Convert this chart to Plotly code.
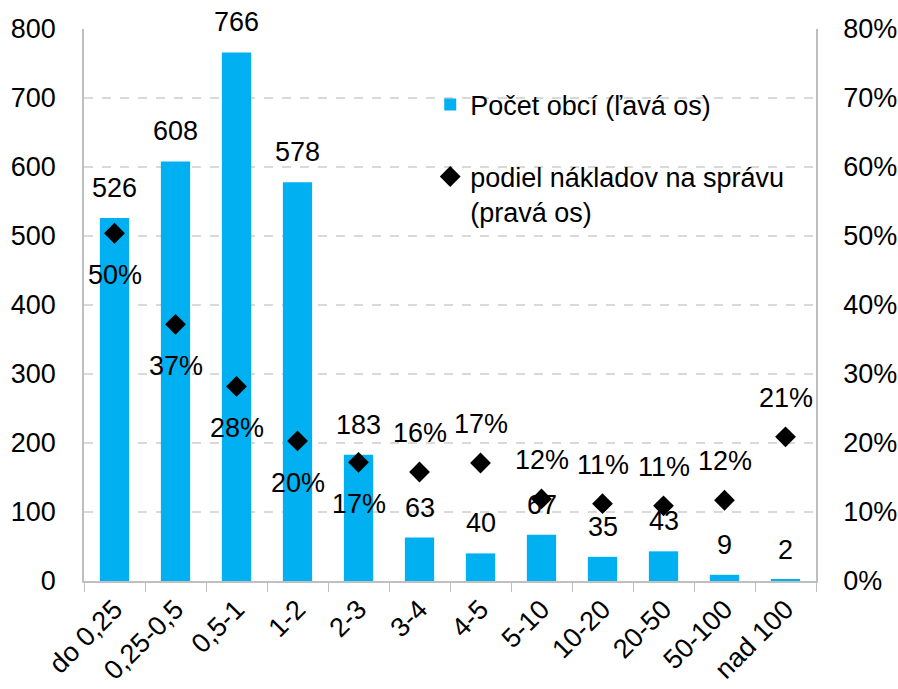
import plotly.graph_objects as go

# Size classes of municipalities (thousand inhabitants)
categories = ["do 0,25", "0,25-0,5", "0,5-1", "1-2", "2-3", "3-4", "4-5",
              "5-10", "10-20", "20-50", "50-100", "nad 100"]
# Number of municipalities in each class (left axis)
pocet_obci = [526, 608, 766, 578, 183, 63, 40, 67, 35, 43, 9, 2]
# Share of administration costs, in percent (right axis)
podiel_nakladov = [50.4, 37.2, 28.2, 20.3, 17.2, 15.8, 17.1, 11.9, 11.2, 10.9, 11.7, 20.9]
# Where each percentage label sits relative to its marker
pct_label_side = ["below"] * 5 + ["above"] * 7

left_ticks = [0, 100, 200, 300, 400, 500, 600, 700, 800]
right_ticks = [0, 10, 20, 30, 40, 50, 60, 70, 80]
right_tick_text = [f"{t}%" for t in right_ticks]

FONT = "Liberation Sans, Arial, sans-serif"
BAR_COLOR = "#00B0F0"
GRID = "#D9D9D9"
AXIS = "#BFBFBF"
FS = 27

fig = go.Figure()

fig.add_trace(go.Bar(
    x=categories, y=pocet_obci,
    name="Počet obcí (ľavá os)",
    marker=dict(color=BAR_COLOR, line=dict(width=0)),
    legendgroup="a",
    yaxis="y",
))

fig.add_trace(go.Scatter(
    x=categories, y=podiel_nakladov,
    name="podiel nákladov na správu<br>(pravá os)",
    mode="markers",
    marker=dict(symbol="diamond", size=16, color="black"),
    legendgroup="b",
    yaxis="y2",
))

annotations = []
for cat, v in zip(categories, pocet_obci):
    annotations.append(dict(
        x=cat, y=v, xref="x", yref="y", text=str(v), showarrow=False,
        yshift=30, font=dict(family=FONT, size=FS, color="black"),
    ))
for cat, p, side in zip(categories, podiel_nakladov, pct_label_side):
    annotations.append(dict(
        x=cat, y=p, xref="x", yref="y2", text=f"{round(p)}%", showarrow=False,
        yshift=-42 if side == "below" else 39,
        font=dict(family=FONT, size=FS, color="black"),
    ))

fig.update_layout(
    width=898, height=689,
    margin=dict(l=84, r=82, t=29, b=108, autoexpand=False),
    paper_bgcolor="white", plot_bgcolor="white",
    font=dict(family=FONT, size=FS, color="black"),
    bargap=0.52,
    showlegend=True,
    legend=dict(
        x=0.473, y=0.907, xanchor="left", yanchor="top",
        font=dict(family=FONT, size=FS, color="black"),
        bgcolor="rgba(0,0,0,0)",
        traceorder="grouped", tracegroupgap=34,
        valign="top", itemwidth=30,
    ),
    xaxis=dict(
        type="category", range=[-0.5, len(categories) - 0.5],
        showgrid=False, automargin=False,
        showline=True, linecolor=AXIS, linewidth=1.5,
        ticks="outside", tickson="boundaries", ticklen=9, tickcolor=AXIS,
        tickangle=-45, tickfont=dict(family=FONT, size=FS),
    ),
    yaxis=dict(
        range=[0, 800], tickvals=left_ticks, automargin=False,
        showgrid=True, gridcolor=GRID, griddash="dash", gridwidth=1.5,
        showline=True, linecolor=AXIS, linewidth=1.5,
        ticks="", ticklabelstandoff=21, zeroline=False,
        tickfont=dict(family=FONT, size=FS),
    ),
    yaxis2=dict(
        range=[0, 80], tickmode="array", tickvals=right_ticks, ticktext=right_tick_text,
        overlaying="y", side="right", automargin=False,
        showgrid=False, showline=True, linecolor=AXIS, linewidth=1.5,
        ticks="", ticklabelstandoff=20, zeroline=False,
        tickfont=dict(family=FONT, size=FS),
    ),
    annotations=annotations,
)

fig.write_html("out.html")
